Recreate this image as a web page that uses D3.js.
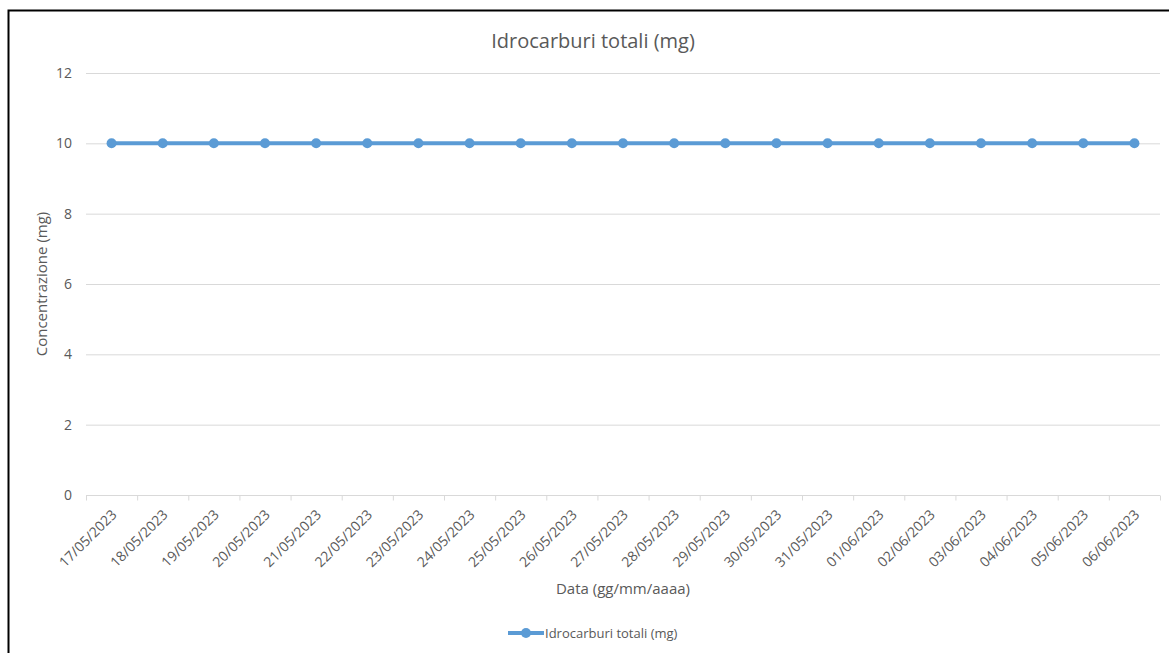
<!DOCTYPE html>
<html>
<head>
<meta charset="utf-8">
<script src="https://cdn.jsdelivr.net/npm/d3@7"></script>
<style>
  body { margin: 0; background: #fff; }
  svg text { font-family: "Open Sans", Calibri, sans-serif; fill: #595959; }
</style>
</head>
<body>
<svg id="chart" width="1169" height="653"></svg>
<script>
// Chart data
const dates = ["17/05/2023", "18/05/2023", "19/05/2023", "20/05/2023", "21/05/2023",
    "22/05/2023", "23/05/2023", "24/05/2023", "25/05/2023", "26/05/2023", "27/05/2023",
    "28/05/2023", "29/05/2023", "30/05/2023", "31/05/2023", "01/06/2023", "02/06/2023",
    "03/06/2023", "04/06/2023", "05/06/2023", "06/06/2023"];
const values = [10, 10, 10, 10, 10, 10, 10, 10, 10, 10, 10, 10, 10, 10, 10, 10, 10, 10, 10, 10, 10];
const yTicks = [0, 2, 4, 6, 8, 10, 12];
const seriesName = "Idrocarburi totali (mg)";

const svg = d3.select("#chart");
const color = "#5b9bd5";

// Outer frame (left and top edges visible)
svg.append("path")
    .attr("d", "M8.5,653 L8.5,10.5 L1169,10.5")
    .attr("fill", "none")
    .attr("stroke", "#000")
    .attr("stroke-width", 2);

const plot = { left: 86, right: 1160, top: 73, bottom: 495 };

const x = d3.scaleBand().domain(dates).range([plot.left, plot.right]);
const y = d3.scaleLinear().domain([0, 12]).range([plot.bottom, plot.top]);

// Gridlines
svg.append("g")
    .selectAll("line")
    .data(yTicks.filter(d => d > 0))
    .join("line")
    .attr("x1", plot.left).attr("x2", plot.right)
    .attr("y1", d => y(d) + 0.5).attr("y2", d => y(d) + 0.5)
    .attr("stroke", "#d9d9d9");

// Y axis labels
svg.append("g")
    .selectAll("text")
    .data(yTicks)
    .join("text")
    .attr("x", 72)
    .attr("y", d => y(d))
    .attr("dy", "0.35em")
    .attr("text-anchor", "end")
    .style("font-size", "14px")
    .text(d => d);

// X axis
const xAxis = svg.append("g")
    .attr("transform", `translate(0,${plot.bottom + 0.5})`);
xAxis.append("line")
    .attr("x1", plot.left).attr("x2", plot.right)
    .attr("stroke", "#d9d9d9");
const boundaries = dates.map(d => x(d)).concat([plot.right]);
xAxis.selectAll(".tick")
    .data(boundaries)
    .join("line")
    .attr("class", "tick")
    .attr("x1", d => d + 0.5).attr("x2", d => d + 0.5)
    .attr("y1", 0).attr("y2", 5)
    .attr("stroke", "#d9d9d9");
xAxis.selectAll(".lbl")
    .data(dates)
    .join("text")
    .attr("class", "lbl")
    .attr("text-anchor", "end")
    .attr("transform", d => `translate(${x(d) + x.bandwidth() / 2 + 6},${20}) rotate(-45)`)
    .style("font-size", "14px")
    .text(d => d);

// Line and markers
const line = d3.line()
    .x((d, i) => x(dates[i]) + x.bandwidth() / 2)
    .y(d => y(d));

svg.append("path")
    .datum(values)
    .attr("d", line)
    .attr("fill", "none")
    .attr("stroke", color)
    .attr("stroke-width", 4)
    .attr("stroke-linejoin", "round");

svg.append("g")
    .selectAll("circle")
    .data(values)
    .join("circle")
    .attr("cx", (d, i) => x(dates[i]) + x.bandwidth() / 2)
    .attr("cy", d => y(d))
    .attr("r", 5)
    .attr("fill", color);

// Title
svg.append("text")
    .attr("x", 593)
    .attr("y", 48)
    .attr("text-anchor", "middle")
    .style("font-size", "20px")
    .text(seriesName);

// Axis titles
svg.append("text")
    .attr("x", plot.left + (plot.right - plot.left) / 2)
    .attr("y", 594)
    .attr("text-anchor", "middle")
    .style("font-size", "15px")
    .text("Data (gg/mm/aaaa)");

svg.append("text")
    .attr("transform", `translate(47,${(plot.top + plot.bottom) / 2}) rotate(-90)`)
    .attr("text-anchor", "middle")
    .style("font-size", "15px")
    .text("Concentrazione (mg)");

// Legend
const legend = svg.append("g").attr("transform", "translate(508,633)");
legend.append("line")
    .attr("x1", 0).attr("x2", 36)
    .attr("stroke", color)
    .attr("stroke-width", 4);
legend.append("circle")
    .attr("cx", 18).attr("r", 5)
    .attr("fill", color);
legend.append("text")
    .attr("x", 37)
    .attr("dy", "0.35em")
    .style("font-size", "13px")
    .text(seriesName);
</script>
</body>
</html>
